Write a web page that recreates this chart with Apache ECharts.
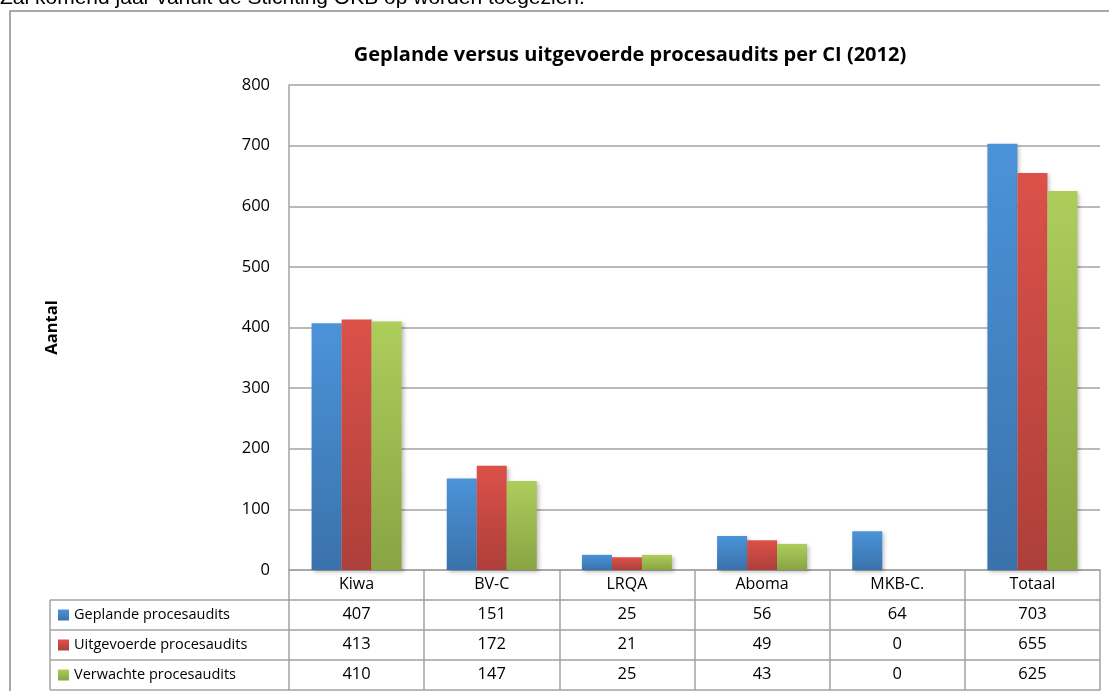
<!DOCTYPE html>
<html>
<head>
<meta charset="utf-8">
<script src="https://cdn.jsdelivr.net/npm/echarts@6/dist/echarts.min.js"></script>
<style>
  html, body { margin: 0; padding: 0; background: #fff; }
  #chart { width: 1109px; height: 691px; }
</style>
</head>
<body>
<div id="chart"></div>
<script>
  const categories = ["Kiwa", "BV-C", "LRQA", "Aboma", "MKB-C.", "Totaal"]
  const seriesNames = ["Geplande procesaudits", "Uitgevoerde procesaudits", "Verwachte procesaudits"]
  const gepland = [407, 151, 25, 56, 64, 703]
  const uitgevoerd = [413, 172, 21, 49, 0, 655]
  const verwacht = [410, 147, 25, 43, 0, 625]
  const yTicks = [0, 100, 200, 300, 400, 500, 600, 700, 800]

  // kleuren: boven licht, onder donker
  const colours = [
    ["#4b93d9", "#3a72ab"],
    ["#dc514a", "#ad3f3a"],
    ["#adcd5b", "#88a444"]
  ]
  const font = "'Open Sans', sans-serif"
  const gridLine = "#a3a3a3"
  const gridLeft = 289, gridRight = 9, gridTop = 85, gridBottom = 121

  const myChart = echarts.init(document.getElementById("chart"))

  const grad = (c) => new echarts.graphic.LinearGradient(0, 0, 0, 1, [
    { offset: 0, color: c[0] }, { offset: 1, color: c[1] }
  ])

  const valueRows = [gepland, uitgevoerd, verwacht]
  const tableAxes = valueRows.map((row, i) => ({
    type: "category",
    position: "bottom",
    offset: 30 * (i + 1),
    data: row.map(String),
    axisLine: { show: true, lineStyle: { color: gridLine, width: 1.5 } },
    axisTick: { show: false },
    axisLabel: { color: "#000", fontFamily: font, fontSize: 16.5, margin: 6 }
  }))
  // onderste lijn van de tabel
  tableAxes.push({
    type: "category",
    position: "bottom",
    offset: 120,
    data: categories,
    axisLine: { show: true, lineStyle: { color: gridLine, width: 1.5 } },
    axisTick: { show: false },
    axisLabel: { show: false }
  })

  const series = valueRows.map((row, i) => ({
    name: seriesNames[i],
    type: "bar",
    data: row,
    barWidth: 30,
    barGap: "0%",
    itemStyle: {
      color: grad(colours[i]),
      shadowBlur: 4,
      shadowOffsetX: 2,
      shadowOffsetY: 2,
      shadowColor: "rgba(0,0,0,0.25)"
    }
  }))

  const tableTop = 691 - gridBottom
  const lineStyle = { stroke: gridLine, lineWidth: 1.5 }
  const legendLines = [30, 60, 90, 120].map((dy) => ({
    type: "line",
    shape: { x1: 50, y1: tableTop + dy, x2: gridLeft, y2: tableTop + dy },
    style: lineStyle
  }))
  legendLines.push({
    type: "line",
    shape: { x1: 50, y1: tableTop + 30, x2: 50, y2: tableTop + 120 },
    style: lineStyle
  })

  myChart.setOption({
    animation: false,
    textStyle: { fontFamily: font },
    grid: { left: gridLeft, right: gridRight, top: gridTop, bottom: gridBottom, containLabel: false },
    legend: {
      orient: "vertical",
      left: 58,
      top: tableTop + 37,
      padding: 0,
      icon: "rect",
      itemWidth: 11,
      itemHeight: 11,
      itemGap: 14,
      selectedMode: false,
      textStyle: { fontFamily: font, fontSize: 14.5, color: "#000", lineHeight: 16 },
      data: seriesNames
    },
    xAxis: [{
      type: "category",
      data: categories,
      axisLine: { show: true, lineStyle: { color: gridLine, width: 1.5 } },
      axisTick: { show: true, alignWithLabel: false, inside: false, length: 120, lineStyle: { color: gridLine, width: 1.5 } },
      axisLabel: { color: "#000", fontFamily: font, fontSize: 16, margin: 6 }
    }].concat(tableAxes),
    yAxis: {
      type: "value",
      min: yTicks[0],
      max: yTicks[yTicks.length - 1],
      interval: 100,
      name: "Aantal",
      nameLocation: "middle",
      nameRotate: 90,
      nameGap: 228,
      nameTextStyle: { fontFamily: font, fontSize: 16.5, fontWeight: "bold", color: "#000" },
      axisLine: { show: true, lineStyle: { color: gridLine, width: 1.5 } },
      axisTick: { show: false },
      splitLine: { show: true, lineStyle: { color: gridLine, width: 1.5 } },
      axisLabel: { color: "#000", fontFamily: font, fontSize: 16.5, margin: 19 }
    },
    graphic: [
      {
        type: "text",
        left: 0,
        top: -12,
        style: { text: "Zal komend jaar vanuit de Stichting OKB op worden toegezien.", fontFamily: "'Liberation Sans', Arial, sans-serif", fontSize: 21, fill: "#000" }
      },
      {
        type: "rect",
        shape: { x: 10, y: 11, width: 1120, height: 700 },
        style: { fill: "none", stroke: "#8c8c8c", lineWidth: 1.5 },
        silent: true
      },
      {
        type: "text",
        x: 630,
        y: 55,
        style: { text: "Geplande versus uitgevoerde procesaudits per CI (2012)", fontFamily: font, fontSize: 20, fontWeight: "bold", fill: "#000", align: "center", verticalAlign: "middle" }
      }
    ].concat(legendLines),
    series: series
  })
</script>
</body>
</html>
